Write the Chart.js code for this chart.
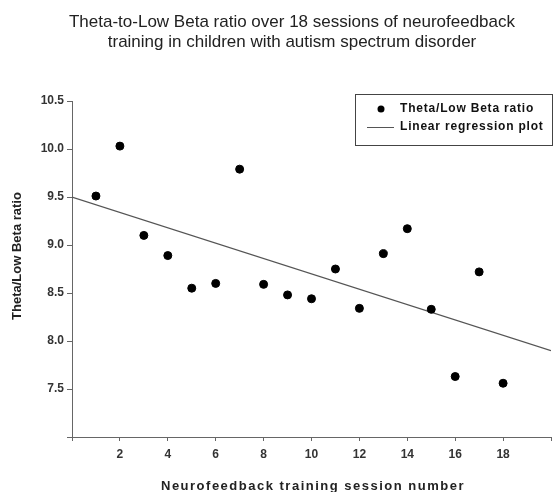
<!DOCTYPE html>
<html>
<head>
<meta charset="utf-8">
<script src="https://cdn.jsdelivr.net/npm/chart.js@4/dist/chart.umd.min.js"></script>
<style>
  html, body { margin: 0; padding: 0; background: #fff; }
  #wrap { width: 557px; height: 492px; }
</style>
</head>
<body>
<div id="wrap"><canvas id="chart" width="557" height="492"></canvas></div>
<script>
const titleLines = ['Theta-to-Low Beta ratio over 18 sessions of neurofeedback', 'training in children with autism spectrum disorder'];
const xTitle = 'Neurofeedback training session number';
const yTitle = 'Theta/Low Beta ratio';
const sessions = [1, 2, 3, 4, 5, 6, 7, 8, 9, 10, 11, 12, 13, 14, 15, 16, 17, 18];
const ratios = [9.51, 10.03, 9.10, 8.89, 8.55, 8.60, 9.79, 8.59, 8.48, 8.44, 8.75, 8.34, 8.91, 9.17, 8.33, 7.63, 8.72, 7.56];
const fitX = [0, 20];
const fitY = [9.50, 7.90];
const seriesNames = ['Theta/Low Beta ratio', 'Linear regression plot'];

const axisColor = '#666';
const FONT = 'Arial, "Liberation Sans", sans-serif';
const tickFont = { family: FONT, size: 12, weight: 'bold' };

// title, axis titles and boxed legend drawn on top of the chart
const overlay = {
  id: 'overlay',
  afterDraw(chart) {
    const ctx = chart.ctx;
    ctx.save();
    ctx.fillStyle = '#222';
    ctx.font = '17px ' + FONT;
    ctx.textAlign = 'center';
    ctx.textBaseline = 'middle';
    titleLines.forEach((t, i) => ctx.fillText(t, 292, 22 + i * 20));

    ctx.font = 'bold 13px ' + FONT;
    ctx.save();
    ctx.translate(17, 256);
    ctx.rotate(-Math.PI / 2);
    ctx.fillText(yTitle, 0, 0);
    ctx.restore();

    ctx.letterSpacing = '1.5px';
    ctx.fillText(xTitle, 313, 486);

    ctx.strokeStyle = '#444';
    ctx.lineWidth = 1;
    ctx.strokeRect(355.5, 94.5, 197, 51);
    ctx.fillStyle = '#000';
    ctx.beginPath();
    ctx.arc(381, 109, 3.5, 0, Math.PI * 2);
    ctx.fill();
    ctx.strokeStyle = '#555';
    ctx.beginPath();
    ctx.moveTo(367, 127.5);
    ctx.lineTo(394, 127.5);
    ctx.stroke();
    ctx.fillStyle = '#111';
    ctx.font = 'bold 12px ' + FONT;
    ctx.letterSpacing = '0.8px';
    ctx.textAlign = 'left';
    ctx.fillText(seriesNames[0], 400, 109);
    ctx.fillText(seriesNames[1], 400, 127);
    ctx.restore();
  }
};

new Chart(document.getElementById('chart'), {
  type: 'scatter',
  data: {
    datasets: [
      {
        label: seriesNames[0],
        data: sessions.map((s, i) => ({ x: s, y: ratios[i] })),
        backgroundColor: '#000',
        borderColor: '#000',
        pointRadius: 4,
        pointHoverRadius: 4
      },
      {
        label: seriesNames[1],
        type: 'line',
        data: fitX.map((x, i) => ({ x, y: fitY[i] })),
        borderColor: '#555',
        borderWidth: 1.3,
        pointRadius: 0,
        fill: false
      }
    ]
  },
  options: {
    responsive: false,
    animation: false,
    layout: { padding: { top: 101, right: 5, left: 0, bottom: 0 } },
    plugins: { legend: { display: false }, title: { display: false }, tooltip: { enabled: false } },
    scales: {
      x: {
        type: 'linear',
        min: 0, max: 20,
        afterFit: (s) => { s.height = 55; },
        border: { color: axisColor, width: 1 },
        grid: { drawOnChartArea: false, drawTicks: true, tickLength: 4, color: axisColor },
        ticks: {
          stepSize: 2, color: '#333', font: tickFont, padding: 6,
          callback: (v) => (v === 0 || v === 20) ? '' : v
        },
        title: { display: false }
      },
      y: {
        min: 7, max: 10.5,
        afterFit: (s) => { s.width = 72; },
        border: { color: axisColor, width: 1 },
        grid: { drawOnChartArea: false, drawTicks: true, tickLength: 5, color: axisColor },
        ticks: {
          stepSize: 0.5, color: '#333', font: tickFont, padding: 3,
          callback: (v) => v === 7 ? '' : v.toFixed(1)
        },
        title: { display: false }
      }
    }
  },
  plugins: [overlay]
});
</script>
</body>
</html>
